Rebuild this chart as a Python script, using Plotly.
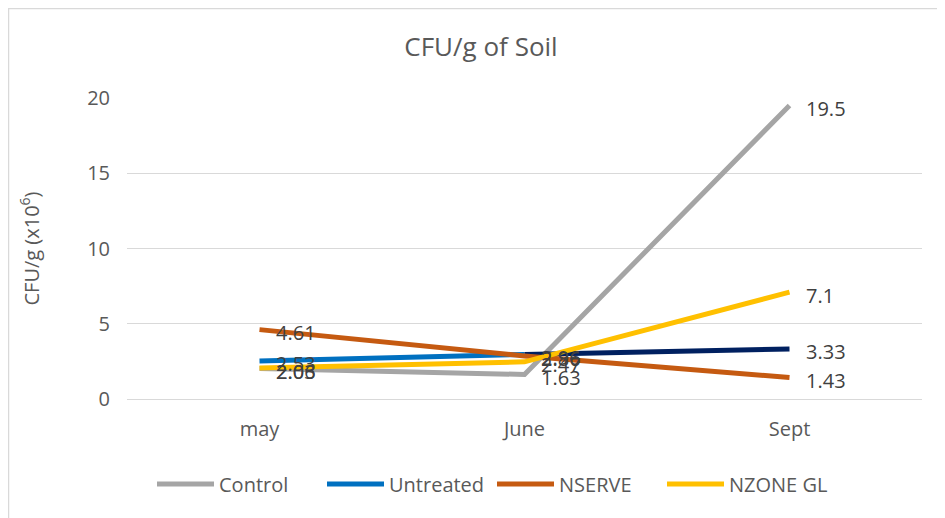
import plotly.graph_objects as go

months = ["may", "June", "Sept"]
control = [2.03, 1.63, 19.5]
untreated = [2.53, 2.96, 3.33]
nserve = [4.61, 2.86, 1.43]
nzone = [2.06, 2.47, 7.1]
y_ticks = [0, 5, 10, 15, 20]

# page body adds an 8px margin, so the figure is 8px smaller and shifted
OFF = 8
W, H = 945 - OFF, 518 - OFF
L, R, T, B = 127 - OFF, 23, 98 - OFF, 518 - 399
pw, ph = W - L - R, H - T - B

FONT = "Open Sans, sans-serif"
GREY = "#595959"
fig = go.Figure()

def add(name, xs, ys, color, showleg=True):
    fig.add_trace(go.Scatter(
        x=xs, y=ys, name=name, mode="lines",
        line=dict(color=color, width=5),
        showlegend=showleg, cliponaxis=False,
    ))

add("Control", months, control, "#A5A5A5")
add("Untreated", months[:2], untreated[:2], "#0070C0")
add("Untreated", months[1:], untreated[1:], "#002060", showleg=False)
add("NSERVE", months, nserve, "#C55A11")
add("NZONE GL", months, nzone, "#FFC000")

annotations = []
for series in (control, untreated, nserve, nzone):
    for m, v in zip(months, series):
        annotations.append(dict(
            x=m, y=v, xref="x", yref="y", text=f"{v:g}", showarrow=False,
            xanchor="left", yanchor="middle", xshift=14, yshift=-3,
            font=dict(family=FONT, size=20, color="#404040")))

fig.update_layout(
    width=W, height=H,
    margin=dict(l=L, r=R, t=T, b=B, autoexpand=False),
    paper_bgcolor="white", plot_bgcolor="white",
    font=dict(family=FONT, color=GREY, size=20),
    title=dict(text="CFU/g of Soil", x=(481 - OFF) / W, xanchor="center",
               xref="container", y=1 - (47 - OFF) / H, yanchor="middle",
               yref="container", font=dict(size=26, color=GREY)),
    xaxis=dict(type="category", showgrid=False, showline=True, linecolor="#D9D9D9",
               linewidth=1, ticks="", tickfont=dict(size=20, color=GREY),
               range=[-0.5, 2.5], ticklabelstandoff=12),
    yaxis=dict(range=[0, 20], tickvals=y_ticks, showgrid=True, gridcolor="#D9D9D9",
               gridwidth=1, zeroline=False, showline=False,
               tickfont=dict(size=20, color=GREY), ticks="", ticklabelstandoff=16,
               title=dict(text="CFU/g (x10<sup>6</sup>)", standoff=42,
                          font=dict(size=20, color=GREY))),
    legend=dict(orientation="h", x=(492 - 127) / pw, xanchor="center",
                y=(399 - 484) / ph, yanchor="middle",
                font=dict(size=20, color=GREY), itemwidth=57,
                entrywidth=98, entrywidthmode="pixels",
                tracegroupgap=0),
    annotations=annotations,
    shapes=[dict(type="rect", xref="paper", yref="paper",
                 x0=(0.5 - L) / pw, x1=(W + 10 - L) / pw,
                 y0=-(B + 10) / ph, y1=(ph + T - 0.5) / ph,
                 line=dict(color="#D9D9D9", width=1.5))],
)
fig.write_html("out.html")
